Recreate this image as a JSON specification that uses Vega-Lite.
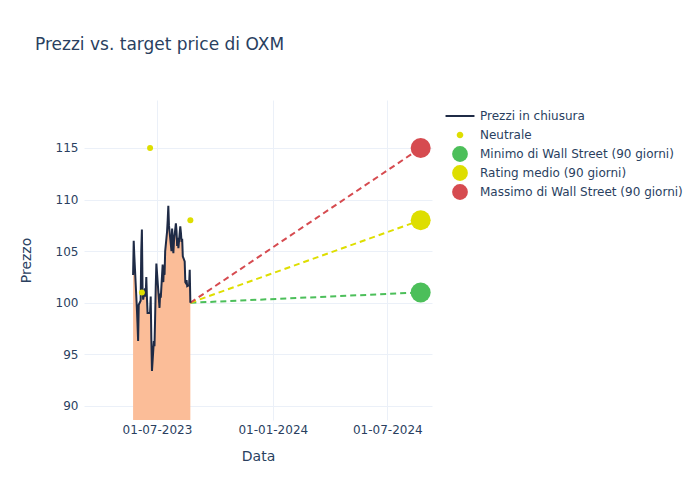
{
  "$schema": "https://vega.github.io/schema/vega-lite/v6.json",
  "width": 348,
  "height": 320,
  "autosize": {"type": "none"},
  "padding": {"left": 84, "top": 100, "right": 268, "bottom": 80},
  "background": "white",
  "title": {"text": "Prezzi vs. target price di OXM", "anchor": "start", "frame": "group", "dx": -49, "offset": 46, "fontSize": 17, "fontWeight": "normal", "color": "#2a3f5f", "font": "DejaVu Sans"},
  "config": {
    "font": "DejaVu Sans",
    "view": {"stroke": null},
    "axis": {"labelColor": "#2a3f5f", "titleColor": "#2a3f5f", "gridColor": "#ebf0f8", "domain": false, "ticks": false, "labelFontSize": 12, "titleFontSize": 14, "titleFontWeight": "normal"},
    "legend": {"labelFontSize": 12, "labelColor": "#2a3f5f"}
  },
  "datasets": {
    "prices": [
      {"date": "2023-05-24", "price": 102.7},
      {"date": "2023-05-25", "price": 106.0},
      {"date": "2023-05-26", "price": 104.5},
      {"date": "2023-05-30", "price": 99.5},
      {"date": "2023-05-31", "price": 98.0},
      {"date": "2023-06-01", "price": 96.3},
      {"date": "2023-06-02", "price": 99.8},
      {"date": "2023-06-05", "price": 100.2},
      {"date": "2023-06-06", "price": 105.0},
      {"date": "2023-06-07", "price": 107.1},
      {"date": "2023-06-08", "price": 101.5},
      {"date": "2023-06-09", "price": 100.3},
      {"date": "2023-06-12", "price": 101.4},
      {"date": "2023-06-13", "price": 100.6},
      {"date": "2023-06-14", "price": 102.5},
      {"date": "2023-06-15", "price": 100.5},
      {"date": "2023-06-16", "price": 99.0},
      {"date": "2023-06-20", "price": 99.0},
      {"date": "2023-06-21", "price": 100.6},
      {"date": "2023-06-22", "price": 96.5},
      {"date": "2023-06-23", "price": 93.4},
      {"date": "2023-06-26", "price": 96.3},
      {"date": "2023-06-27", "price": 95.8},
      {"date": "2023-06-28", "price": 98.5},
      {"date": "2023-06-29", "price": 101.5},
      {"date": "2023-06-30", "price": 103.8},
      {"date": "2023-07-03", "price": 101.2},
      {"date": "2023-07-05", "price": 99.5},
      {"date": "2023-07-06", "price": 100.9},
      {"date": "2023-07-07", "price": 100.5},
      {"date": "2023-07-10", "price": 103.7},
      {"date": "2023-07-11", "price": 102.0},
      {"date": "2023-07-12", "price": 103.5},
      {"date": "2023-07-13", "price": 102.7},
      {"date": "2023-07-14", "price": 105.0},
      {"date": "2023-07-17", "price": 106.9},
      {"date": "2023-07-18", "price": 108.0},
      {"date": "2023-07-19", "price": 109.4},
      {"date": "2023-07-20", "price": 107.5},
      {"date": "2023-07-21", "price": 106.9},
      {"date": "2023-07-24", "price": 105.0},
      {"date": "2023-07-25", "price": 107.2},
      {"date": "2023-07-26", "price": 106.3},
      {"date": "2023-07-27", "price": 104.8},
      {"date": "2023-07-28", "price": 106.0},
      {"date": "2023-07-31", "price": 107.7},
      {"date": "2023-08-01", "price": 107.0},
      {"date": "2023-08-02", "price": 105.5},
      {"date": "2023-08-03", "price": 106.3},
      {"date": "2023-08-04", "price": 105.3},
      {"date": "2023-08-07", "price": 107.4},
      {"date": "2023-08-08", "price": 106.8},
      {"date": "2023-08-09", "price": 105.9},
      {"date": "2023-08-10", "price": 106.2},
      {"date": "2023-08-11", "price": 104.5},
      {"date": "2023-08-14", "price": 104.0},
      {"date": "2023-08-15", "price": 102.0},
      {"date": "2023-08-16", "price": 101.9},
      {"date": "2023-08-17", "price": 102.2},
      {"date": "2023-08-18", "price": 101.6},
      {"date": "2023-08-21", "price": 101.7},
      {"date": "2023-08-22", "price": 103.2},
      {"date": "2023-08-23", "price": 100.0}
    ],
    "neutral": [
      {"date": "2023-06-07", "price": 101.0},
      {"date": "2023-06-20", "price": 115.0},
      {"date": "2023-08-23", "price": 108.0}
    ],
    "targetlines": [
      {"serie": "Minimo di Wall Street (90 giorni)", "date": "2023-08-23", "price": 100.0},
      {"serie": "Minimo di Wall Street (90 giorni)", "date": "2024-08-23", "price": 101.0},
      {"serie": "Rating medio (90 giorni)", "date": "2023-08-23", "price": 100.0},
      {"serie": "Rating medio (90 giorni)", "date": "2024-08-23", "price": 108.0},
      {"serie": "Massimo di Wall Street (90 giorni)", "date": "2023-08-23", "price": 100.0},
      {"serie": "Massimo di Wall Street (90 giorni)", "date": "2024-08-23", "price": 115.0}
    ],
    "targets": [
      {"serie": "Minimo di Wall Street (90 giorni)", "date": "2024-08-23", "price": 101.0},
      {"serie": "Rating medio (90 giorni)", "date": "2024-08-23", "price": 108.0},
      {"serie": "Massimo di Wall Street (90 giorni)", "date": "2024-08-23", "price": 115.0}
    ]
  },
  "encoding": {
    "x": {
      "field": "date", "type": "temporal",
      "scale": {"type": "utc", "domain": [{"year": 2023, "month": 3, "date": 7, "utc": true}, {"year": 2024, "month": 9, "date": 10, "utc": true}]},
      "axis": {"title": "Data", "format": "%d-%m-%Y", "labelPadding": 4, "titlePadding": 14,
        "values": [{"year": 2023, "month": 7, "date": 1, "utc": true}, {"year": 2024, "month": 1, "date": 1, "utc": true}, {"year": 2024, "month": 7, "date": 1, "utc": true}]}
    },
    "y": {
      "field": "price", "type": "quantitative",
      "scale": {"domain": [88.64, 119.65], "nice": false, "zero": false},
      "axis": {"title": "Prezzo", "values": [90, 95, 100, 105, 110, 115], "labelPadding": 6, "titlePadding": 22}
    }
  },
  "layer": [
    {
      "data": {"name": "prices"},
      "mark": {"type": "area", "color": "#fbbd98", "opacity": 1, "clip": true}
    },
    {
      "data": {"name": "targetlines"},
      "mark": {"type": "line", "strokeDash": [6, 4], "strokeWidth": 2},
      "encoding": {
        "detail": {"field": "serie"},
        "color": {
          "field": "serie", "type": "nominal",
          "scale": {
            "domain": ["Prezzi in chiusura", "Neutrale", "Minimo di Wall Street (90 giorni)", "Rating medio (90 giorni)", "Massimo di Wall Street (90 giorni)"],
            "range": ["#1f2b46", "#dede00", "#4cbf5a", "#dede00", "#d64b50"]
          },
          "legend": {
            "title": null, "orient": "none", "legendX": 370, "legendY": 10, "gridAlign": "all",
            "symbolSize": 250, "labelOffset": 14, "rowPadding": 0, "symbolOpacity": 1, "labelLimit": 400,
            "labelFontSize": 12, "labelColor": "#2a3f5f",
            "encode": {
              "symbols": {
                "update": {
                  "shape": {"signal": "datum.value === 'Prezzi in chiusura' ? 'M0,-0.8M0,0.8M-1.83,0L1.83,0' : (datum.value === 'Neutrale' ? 'M0,-0.8M0,0.8M0.42,0A0.42,0.42,0,1,1,-0.42,0A0.42,0.42,0,1,1,0.42,0Z' : 'circle')"},
                  "size": {"value": 250},
                  "fill": {"signal": "datum.value === 'Prezzi in chiusura' ? 'transparent' : scale('color', datum.value)"},
                  "stroke": {"scale": "color", "field": "value"},
                  "strokeWidth": {"signal": "datum.value === 'Prezzi in chiusura' ? 2 : 0"},
                  "opacity": {"value": 1},
                  "fillOpacity": {"value": 1},
                  "strokeDash": {"value": []}
                }
              }
            }
          }
        }
      }
    },
    {
      "data": {"name": "prices"},
      "mark": {"type": "line", "strokeWidth": 2},
      "encoding": {"color": {"datum": "Prezzi in chiusura", "type": "nominal"}}
    },
    {
      "data": {"name": "neutral"},
      "mark": {"type": "circle", "size": 36, "opacity": 1},
      "encoding": {"color": {"datum": "Neutrale", "type": "nominal"}}
    },
    {
      "data": {"name": "targets"},
      "mark": {"type": "circle", "size": 400, "opacity": 1},
      "encoding": {"color": {"field": "serie", "type": "nominal"}}
    }
  ]
}
